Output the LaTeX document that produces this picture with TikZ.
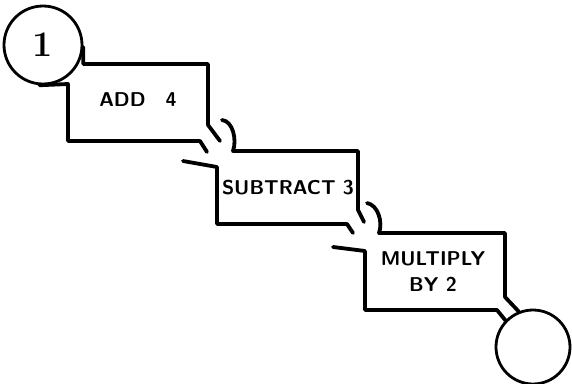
\documentclass[tikz,border=0pt]{standalone}
\usepackage{tikz}
\tikzset{
  ring/.style={draw=black, line width=2.8pt, circle, inner sep=0pt, fill=none},
  boxtext/.style={font=\sffamily\bfseries\fontsize{20}{26}\selectfont, align=center},
  inkline/.style={draw=black, line width=3.8pt, line cap=round, line join=round}
}

\begin{document}
\begin{tikzpicture}[x=1pt, y=-1pt]
  \useasboundingbox (0,0) rectangle (572,383);
  \node[ring, minimum size=78pt, font=\bfseries\fontsize{36}{36}\selectfont] (start) at (43,45) {1};
  \node[ring, minimum size=74pt] (finish) at (533,347) {};

  \node[boxtext] (add) at (138,100) {ADD\quad 4};
  \node[boxtext] (sub) at (288,188) {SUBTRACT 3};
  \node[boxtext] (mul) at (433,272) {MULTIPLY\\BY 2};

  \draw[inkline] (start.-3) |- (208,64) -- (208,125) -- (220,141);
  \draw[inkline] (start.-95) -- (68,84) -- (68,141) -- (200,141) -- (207,152);

  \draw[inkline] (222,120) .. controls (233,121) and (237,140) .. (233,151) -- (358,151) -- (358,210) -- (364,222);
  \draw[inkline] (183,161) -- (217,167) -- (217,224) -- (347,224) -- (353,233);

  \draw[inkline] (367,203) .. controls (378,205) and (383,222) .. (379,233) -- (505,233) -- (505,297) -- (finish.112);
  \draw[inkline] (333,247) -- (365,251) -- (365,310) -- (497,310) -- (finish.136);
\end{tikzpicture}
\end{document}
